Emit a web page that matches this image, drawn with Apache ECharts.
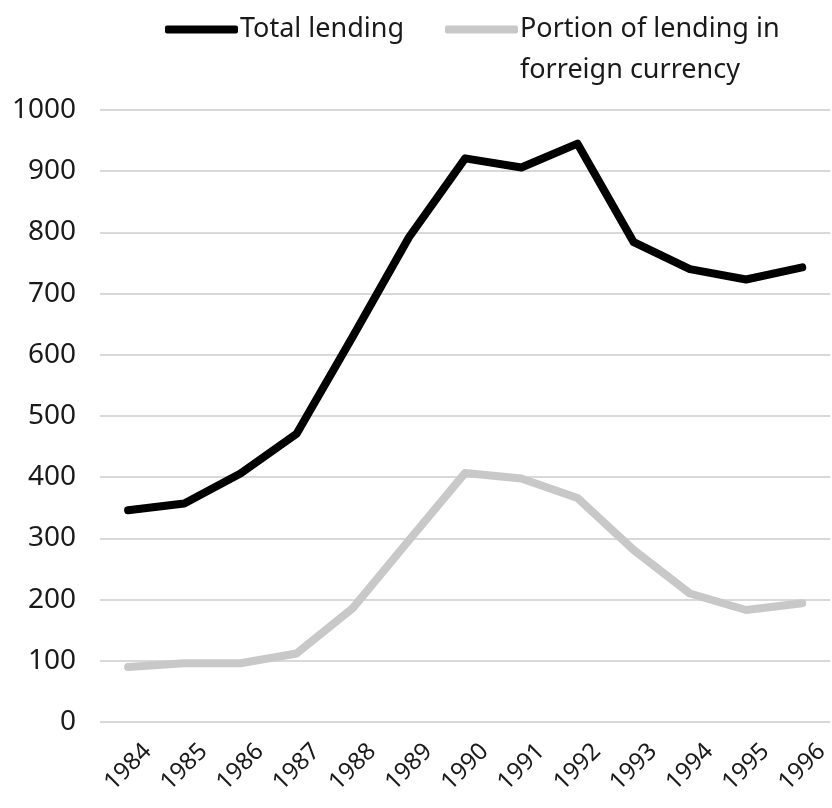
<!DOCTYPE html>
<html>
<head>
<meta charset="utf-8">
<script src="https://cdn.jsdelivr.net/npm/echarts@6/dist/echarts.min.js"></script>
<style>
  html, body { margin: 0; padding: 0; background: #fff; }
  #chart { width: 832px; height: 808px; }
</style>
</head>
<body>
<div id="chart"></div>
<script>
// data
const years = ['1984', '1985', '1986', '1987', '1988', '1989', '1990', '1991', '1992', '1993', '1994', '1995', '1996']
const totalLending = [346, 357, 406, 471, 630, 792, 921, 906, 945, 784, 740, 723, 743]
const foreignLending = [90, 96, 96, 112, 186, 297, 407, 398, 366, 281, 210, 183, 194]

const FONT = 'Noto Sans'

const chart = echarts.init(document.getElementById('chart'))
chart.setOption({
  animation: false,
  textStyle: { fontFamily: FONT, color: '#1a1a1a' },
  legend: [
    {
      data: ['Total lending'],
      left: 160,
      top: 11,
      icon: 'roundRect',
      itemWidth: 73,
      itemHeight: 8,
      textStyle: { fontSize: 27, color: '#1a1a1a', padding: [0, 0, 0, -3] }
    },
    {
      data: ['Portion of lending in forreign currency'],
      left: 440,
      top: 11,
      icon: 'roundRect',
      itemWidth: 73,
      itemHeight: 8,
      formatter: () => 'Portion of lending in',
      textStyle: { fontSize: 27, color: '#1a1a1a', padding: [0, 0, 0, -3] }
    }
  ],
  graphic: [
    {
      type: 'text',
      left: 520,
      top: 57,
      style: { text: 'forreign currency', fontSize: 27, fontFamily: FONT, fill: '#1a1a1a' }
    }
  ],
  grid: {
    left: 100,
    right: -5,
    top: 110,
    bottom: 86
  },
  xAxis: {
    type: 'category',
    data: years,
    boundaryGap: true,
    axisLine: { show: false },
    axisTick: { show: false },
    axisLabel: {
      rotate: 45,
      fontSize: 24,
      color: '#1a1a1a',
      align: 'center',
      verticalAlign: 'middle',
      margin: 45
    }
  },
  yAxis: {
    type: 'value',
    min: 0,
    max: 1000,
    interval: 100,
    axisLine: { show: false },
    axisTick: { show: false },
    axisLabel: { fontSize: 28, color: '#1a1a1a', margin: 24, formatter: v => String(v) },
    splitLine: { lineStyle: { color: '#d9d9d9', width: 2 } }
  },
  series: [
    {
      name: 'Total lending',
      type: 'line',
      data: totalLending,
      symbol: 'none',
      lineStyle: { color: '#000', width: 8, cap: 'round', join: 'round' },
      itemStyle: { color: '#000' }
    },
    {
      name: 'Portion of lending in forreign currency',
      type: 'line',
      data: foreignLending,
      symbol: 'none',
      lineStyle: { color: '#c8c8c8', width: 8, cap: 'round', join: 'round' },
      itemStyle: { color: '#c8c8c8' }
    }
  ]
})
</script>
</body>
</html>
